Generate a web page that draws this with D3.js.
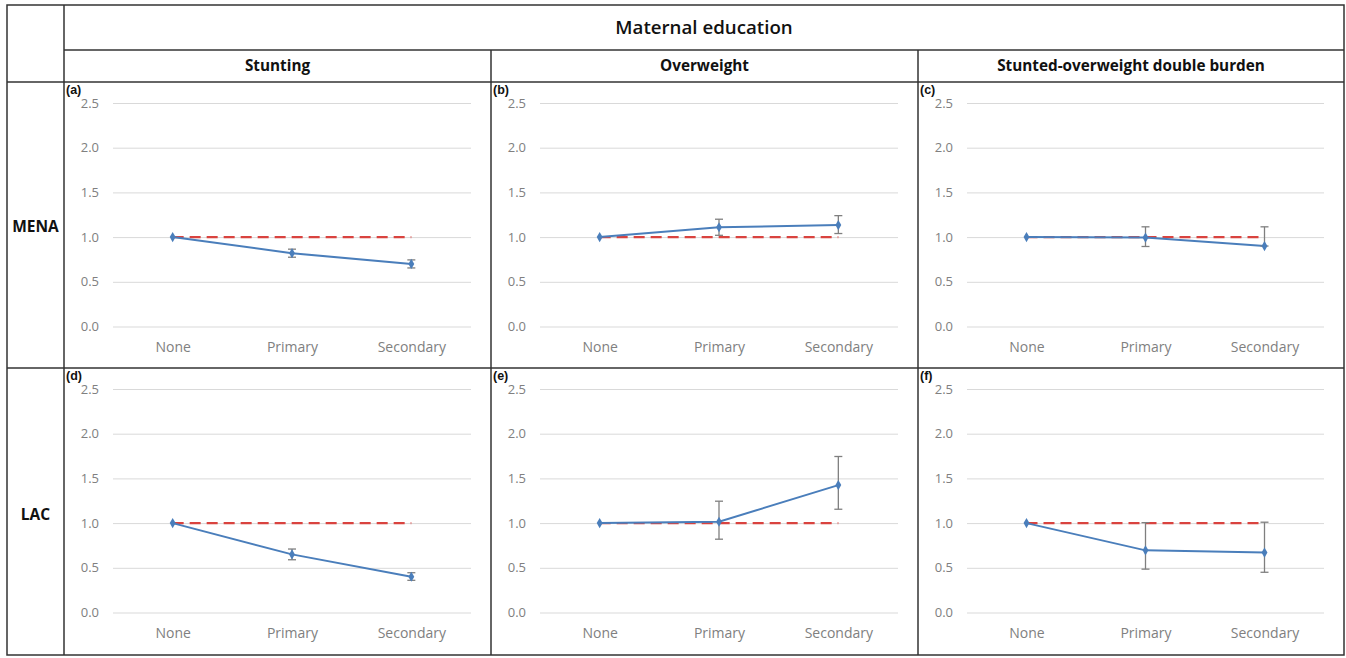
<!DOCTYPE html>
<html>
<head>
<meta charset="utf-8">
<script src="https://cdn.jsdelivr.net/npm/d3@7/dist/d3.min.js"></script>
<style>
  html, body { margin: 0; padding: 0; background: #fff; }
  svg { display: block; }
</style>
</head>
<body>
<svg id="chart" width="1346" height="658"></svg>
<script>
// Education levels on the x axis
const levels = ["None", "Primary", "Secondary"];
const yTicks = [0, 0.5, 1.0, 1.5, 2.0, 2.5];

const outcomes = ["Stunting", "Overweight", "Stunted-overweight double burden"];
const regions = ["MENA", "LAC"];
const panelTags = ["(a)", "(b)", "(c)", "(d)", "(e)", "(f)"];

// Odds ratios with 95% CI bounds, per panel (a)-(f)
const orA = [1.00, 0.82, 0.70];
const loA = [1.00, 0.775, 0.655];
const hiA = [1.00, 0.865, 0.745];

const orB = [1.00, 1.11, 1.135];
const loB = [1.00, 1.02, 1.04];
const hiB = [1.00, 1.20, 1.24];

const orC = [1.00, 0.995, 0.90];
const loC = [1.00, 0.895, 0.90];
const hiC = [1.00, 1.115, 1.115];

const orD = [1.00, 0.65, 0.40];
const loD = [1.00, 0.59, 0.36];
const hiD = [1.00, 0.71, 0.445];

const orE = [1.00, 1.015, 1.425];
const loE = [1.00, 0.82, 1.155];
const hiE = [1.00, 1.245, 1.745];

const orF = [1.00, 0.695, 0.67];
const loF = [1.00, 0.485, 0.45];
const hiF = [1.00, 1.005, 1.01];

// Reference line (OR = 1)
const refLine = [1, 1, 1];

const panels = [
  { or: orA, lo: loA, hi: hiA },
  { or: orB, lo: loB, hi: hiB },
  { or: orC, lo: loC, hi: hiC },
  { or: orD, lo: loD, hi: hiD },
  { or: orE, lo: loE, hi: hiE },
  { or: orF, lo: loF, hi: hiF }
];

const svg = d3.select("#chart");

// Table frame
const colX = [7, 64, 491, 918, 1344];
const rowY = [5, 50, 82, 368, 655];
const frame = svg.append("g").attr("stroke", "#333").attr("stroke-width", 1.5).attr("fill", "none");
frame.append("rect").attr("x", colX[0]).attr("y", rowY[0])
  .attr("width", colX[4] - colX[0]).attr("height", rowY[4] - rowY[0]);
frame.append("line").attr("x1", colX[1]).attr("x2", colX[1]).attr("y1", rowY[0]).attr("y2", rowY[4]);
frame.append("line").attr("x1", colX[1]).attr("x2", colX[4]).attr("y1", rowY[1]).attr("y2", rowY[1]);
frame.append("line").attr("x1", colX[0]).attr("x2", colX[4]).attr("y1", rowY[2]).attr("y2", rowY[2]);
frame.append("line").attr("x1", colX[0]).attr("x2", colX[4]).attr("y1", rowY[3]).attr("y2", rowY[3]);
[2, 3].forEach(i => frame.append("line").attr("x1", colX[i]).attr("x2", colX[i]).attr("y1", rowY[1]).attr("y2", rowY[4]));

const headFont = "'Open Sans', 'DejaVu Sans', sans-serif";

svg.append("text")
  .attr("x", (colX[1] + colX[4]) / 2).attr("y", (rowY[0] + rowY[1]) / 2)
  .attr("dy", "0.35em").attr("text-anchor", "middle")
  .attr("font-family", headFont).attr("font-weight", 600).attr("font-size", 18.7)
  .attr("fill", "#111").text("Maternal education");

outcomes.forEach((t, i) => {
  svg.append("text")
    .attr("x", (colX[i + 1] + colX[i + 2]) / 2).attr("y", (rowY[1] + rowY[2]) / 2)
    .attr("dy", "0.35em").attr("text-anchor", "middle")
    .attr("font-family", headFont).attr("font-weight", 700).attr("font-size", 15.3)
    .attr("fill", "#111").text(t);
});

regions.forEach((t, j) => {
  svg.append("text")
    .attr("x", (colX[0] + colX[1]) / 2).attr("y", [227, 515][j])
    .attr("dy", "0.35em").attr("text-anchor", "middle")
    .attr("font-family", headFont).attr("font-weight", 700).attr("font-size", 15.5)
    .attr("fill", "#111").text(t);
});

// One small line chart per cell
const blue = "#4a7ebb";
const red = "#d9433f";
const grey = "#7f7f7f";
const tickFont = "'Open Sans', 'DejaVu Sans', sans-serif";

panels.forEach((p, k) => {
  const col = k % 3, row = Math.floor(k / 3);
  const cellL = colX[col + 1], cellR = colX[col + 2];
  const cellT = rowY[row + 2];
  const left = cellL + 49, right = cellR - 20;
  const top = cellT + 21, bottom = cellT + 244.5;

  const x = d3.scalePoint().domain(levels).range([left, right]).padding(0.5);
  const y = d3.scaleLinear().domain([0, 2.5]).range([bottom, top]);

  const g = svg.append("g");

  // horizontal gridlines and y labels
  const yAxis = d3.axisLeft(y).tickValues(yTicks).tickFormat(d3.format(".1f"))
    .tickSize(-(right - left)).tickPadding(14);
  const ya = g.append("g").attr("transform", `translate(${left},0)`).call(yAxis);
  ya.select(".domain").remove();
  ya.selectAll(".tick line").attr("stroke", "#d9d9d9").attr("stroke-width", 1);
  ya.selectAll(".tick text").attr("fill", "#808080").attr("font-family", tickFont).attr("font-size", 13);

  // category labels
  const xAxis = d3.axisBottom(x).tickSize(0).tickPadding(16);
  const xa = g.append("g").attr("transform", `translate(0,${bottom})`).call(xAxis);
  xa.select(".domain").remove();
  xa.selectAll(".tick text").attr("fill", "#808080").attr("font-family", tickFont).attr("font-size", 14);

  // reference line at 1
  g.append("path")
    .attr("d", d3.line().x((d, i) => x(levels[i])).y(d => y(d))(refLine))
    .attr("fill", "none").attr("stroke", red).attr("stroke-width", 2.2)
    .attr("stroke-dasharray", "11,6");

  // series line
  g.append("path")
    .attr("d", d3.line().x((d, i) => x(levels[i])).y(d => y(d))(p.or))
    .attr("fill", "none").attr("stroke", blue).attr("stroke-width", 2);

  // confidence intervals
  levels.forEach((lv, i) => {
    if (p.hi[i] === p.lo[i]) return;
    const cx = x(lv);
    g.append("line").attr("x1", cx).attr("x2", cx).attr("y1", y(p.lo[i])).attr("y2", y(p.hi[i]))
      .attr("stroke", grey).attr("stroke-width", 1.3);
    [p.lo[i], p.hi[i]].forEach(v => {
      g.append("line").attr("x1", cx - 4).attr("x2", cx + 4).attr("y1", y(v)).attr("y2", y(v))
        .attr("stroke", grey).attr("stroke-width", 1.3);
    });
  });

  // diamond markers
  g.selectAll("path.pt").data(p.or).join("path").attr("class", "pt")
    .attr("d", d3.symbol().type(d3.symbolDiamond).size(30))
    .attr("transform", (d, i) => `translate(${x(levels[i])},${y(d)})`)
    .attr("fill", blue);

  // panel tag
  svg.append("text")
    .attr("x", cellL + 2).attr("y", cellT + 12)
    .attr("font-family", "'Liberation Sans', Arial, sans-serif").attr("font-weight", 700)
    .attr("font-size", 12.5).attr("fill", "#111").text(panelTags[k]);
});
</script>
</body>
</html>
